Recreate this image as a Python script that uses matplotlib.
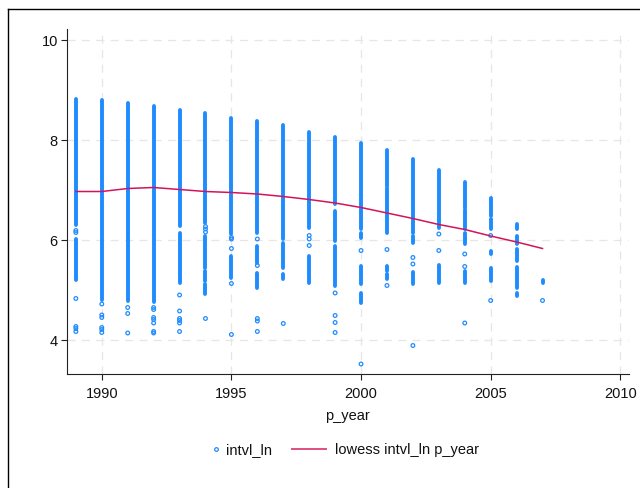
import matplotlib
matplotlib.use("Agg")
import matplotlib.pyplot as plt
from matplotlib.lines import Line2D

plt.rcParams['font.family'] = ['Liberation Sans', 'DejaVu Sans']

# ---- data ----
# dense vertical runs of points: (year, low, high)
band_year = [1989, 1989, 1990, 1991, 1992, 1993, 1993,
             1994, 1994, 1994, 1994, 1994,
             1995, 1995, 1996, 1996, 1996, 1997, 1997, 1997, 1998, 1998,
             1999, 1999, 1999, 2000, 2000, 2000, 2000,
             2001, 2001, 2001, 2001, 2002, 2002, 2002, 2003, 2003,
             2004, 2004, 2004, 2004, 2005, 2005, 2005, 2005,
             2006, 2006, 2006, 2006, 2006, 2007]
band_lo = [6.30, 5.21, 4.81, 4.78, 4.77, 6.29, 5.15,
           6.35, 5.75, 5.45, 5.19, 4.92,
           6.12, 5.25, 6.15, 5.55, 5.05, 6.02, 5.45, 5.22, 6.25, 5.15,
           6.72, 5.99, 5.09, 6.22, 6.05, 5.12, 4.75,
           7.09, 6.15, 5.39, 5.22, 6.15, 5.95, 5.12, 6.25, 5.15,
           6.65, 6.22, 5.92, 5.14, 6.49, 6.22, 5.72, 5.19,
           6.22, 5.92, 5.59, 5.05, 4.89, 5.15]
band_hi = [8.83, 6.03, 8.81, 8.74, 8.69, 8.61, 6.15,
           8.54, 6.09, 5.72, 5.39, 5.12,
           8.45, 5.69, 8.39, 5.89, 5.35, 8.30, 5.95, 5.32, 8.17, 5.69,
           8.07, 6.59, 5.89, 7.95, 6.15, 5.49, 4.95,
           7.81, 7.05, 5.49, 5.32, 7.63, 6.09, 5.37, 7.41, 5.50,
           7.17, 6.60, 6.15, 5.39, 6.85, 6.42, 5.79, 5.45,
           6.33, 6.09, 5.82, 5.47, 4.95, 5.21]

# isolated points
pt_year = ([1989] * 6 + [1990] * 6 + [1991] * 3 + [1992] * 7 + [1993] * 6 +
           [1994] * 4 + [1995] * 5 + [1996] * 5 + [1997] * 1 + [1998] * 3 +
           [1999] * 4 + [2000] * 2 + [2001] * 2 + [2002] * 3 + [2003] * 2 +
           [2004] * 3 + [2005] * 2 + [2007] * 1)
pt_val = [6.19, 6.15, 4.83, 4.27, 4.23, 4.17,
          4.72, 4.50, 4.45, 4.25, 4.21, 4.15,
          4.65, 4.53, 4.14,
          4.65, 4.61, 4.45, 4.41, 4.34, 4.17, 4.14,
          4.90, 4.58, 4.43, 4.39, 4.34, 4.17,
          6.27, 6.22, 6.16, 4.43,
          6.05, 6.02, 5.83, 5.13, 4.11,
          6.02, 5.49, 4.43, 4.38, 4.17,
          4.33,
          6.09, 6.02, 5.89,
          4.94, 4.49, 4.35, 4.15,
          5.79, 3.52,
          5.81, 5.09,
          5.65, 5.52, 3.89,
          6.12, 5.79,
          5.72, 5.47, 4.34,
          6.09, 4.79,
          4.79]

# lowess fit
lw_year = [1989, 1990, 1991, 1992, 1993, 1994, 1995, 1996, 1997, 1998,
           1999, 2000, 2001, 2002, 2003, 2004, 2005, 2006, 2007]
lw_val = [6.97, 6.97, 7.03, 7.05, 7.01, 6.97, 6.95, 6.92, 6.87, 6.81,
          6.74, 6.65, 6.54, 6.43, 6.31, 6.21, 6.08, 5.96, 5.83]

xticks = [1990, 1995, 2000, 2005, 2010]
yticks = [4, 6, 8, 10]

BLUE = '#1E8CFF'
RED = '#D3145A'
FS = 10.5

fig = plt.figure(figsize=(6.4, 4.89), dpi=100)
ax = fig.add_axes([67.3 / 640, 114 / 489, (628.6 - 67.3) / 640, (375 - 30) / 489])

for x in xticks:
    ax.axvline(x, color='#E6E6E6', lw=0.9, ls=(0, (6.5, 5)), zorder=0)
for y in yticks:
    ax.axhline(y, color='#E6E6E6', lw=0.9, ls=(0, (6.5, 5)), zorder=0)

ax.vlines(band_year, band_lo, band_hi, color=BLUE, lw=2.8, capstyle='round', zorder=2)
ax.scatter(pt_year, pt_val, s=7, facecolors='none', edgecolors=BLUE, linewidths=0.9, zorder=2)
ax.plot(lw_year, lw_val, color=RED, lw=1.1, zorder=3)

ax.set_xlim(1988.67, 2010.32)
ax.set_ylim(3.32, 10.22)
ax.set_xticks(xticks)
ax.set_yticks(yticks)
for s in ['top', 'right']:
    ax.spines[s].set_visible(False)
for s in ['left', 'bottom']:
    ax.spines[s].set_color('#222222')
    ax.spines[s].set_linewidth(0.8)
ax.tick_params(axis='both', direction='out', length=4.3, width=0.8, color='#222222',
               labelsize=FS, labelcolor='#111111')
ax.tick_params(axis='x', pad=4)
ax.tick_params(axis='y', pad=2.5)

fig.text(347.5 / 640, (489 - 416) / 489, 'p_year', ha='center', va='center', fontsize=FS, color='#111111')

# legend
ly = (489 - 450) / 489
fig.add_artist(Line2D([216 / 640], [ly], marker='o', ms=2.6, mfc='none', mec=BLUE, mew=0.9, ls='none'))
fig.text(226 / 640, ly, 'intvl_ln', ha='left', va='center', fontsize=FS, color='#111111')
fig.add_artist(Line2D([292 / 640, 326 / 640], [ly, ly], color=RED, lw=1.4, alpha=0.75))
fig.text(335 / 640, ly, 'lowess intvl_ln p_year', ha='left', va='center', fontsize=FS, color='#111111')

# outer frame (left and top edges visible)
fig.add_artist(Line2D([8 / 640, 8 / 640], [-0.1, (489 - 10) / 489], color='black', lw=1.0))
fig.add_artist(Line2D([8 / 640, 1.1], [(489 - 10) / 489, (489 - 10) / 489], color='black', lw=1.0))

fig.savefig('out.png', dpi=100)
